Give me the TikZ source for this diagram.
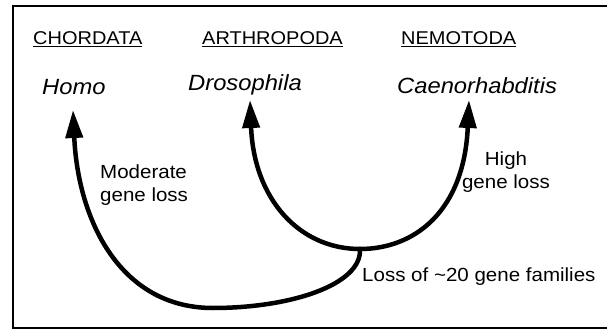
\documentclass[tikz,border=0pt]{standalone}
\usepackage{fontspec}
\setmainfont{Liberation Sans}[FakeStretch=1.08]
\usetikzlibrary{arrows.meta}
\begin{document}
\begin{tikzpicture}[x=1pt,y=-1pt,
  hdr/.style={anchor=base west, inner sep=0pt, font=\fontsize{18.5}{22}\selectfont},
  sp/.style={anchor=base west, inner sep=0pt, font=\fontsize{22}{26}\selectfont\itshape},
  lbl/.style={inner sep=0pt, font=\fontsize{19}{23}\selectfont},
  branch/.style={line width=4.5pt, -{Triangle[length=28pt,width=17pt]}},
]
\useasboundingbox (0,0) rectangle (607,331);
\draw[line width=2pt] (612,6) -- (13,6) -- (13,328) -- (612,328);
% headers
\node[hdr] (chor) at (33,45) {\underline{CHORDATA}};
\node[hdr] (arth) at (202,45) {\underline{ARTHROPODA}};
\node[hdr] (nemo) at (401,45) {\underline{NEMOTODA}};
% species
\node[sp] (homo) at (42,95) {Homo};
\node[sp] (dros) at (188,91) {Drosophila};
\node[sp] (caen) at (397,94) {Caenorhabditis};
% points
\coordinate (junc) at (360,249);
\coordinate (root) at (213,308);
\coordinate (homotip) at (73,110);
\coordinate (drostip) at (250,100);
\coordinate (caentip) at (469,100);
% branches
\draw[branch, line cap=round] (junc) .. controls (362,285) and (290,308) .. (root)
   .. controls (120,308) and (78,220) .. (homotip);
\draw[branch] (junc) .. controls (300,249) and (254,200) .. (drostip);
\draw[branch] (junc) .. controls (414,249) and (464,212) .. (caentip);
% labels
\node[lbl, anchor=north west, align=left] (mod) at (100,165) {Moderate\\gene loss};
\node[lbl, anchor=north, align=center] (high) at (506,152) {High\\gene loss};
\node[lbl, anchor=base west] (fam) at (362,281) {Loss of \textasciitilde20 gene families};
\end{tikzpicture}
\end{document}
